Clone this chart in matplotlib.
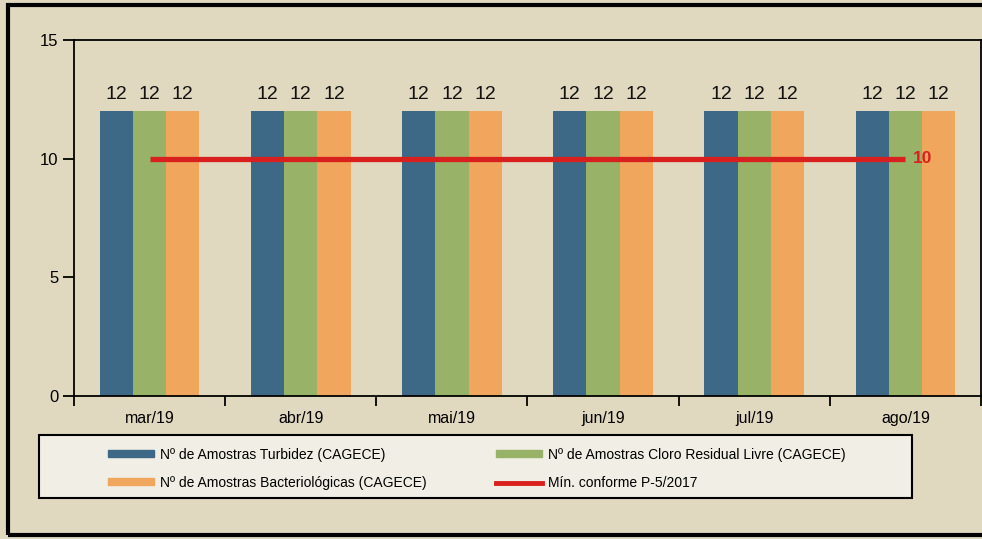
import numpy as np
import matplotlib.pyplot as plt
from matplotlib.patches import Rectangle, Patch
from matplotlib.lines import Line2D

plt.rcParams['font.family'] = ['Liberation Sans', 'DejaVu Sans']

# data
meses = ['mar/19', 'abr/19', 'mai/19', 'jun/19', 'jul/19', 'ago/19']
turbidez = [12, 12, 12, 12, 12, 12]
cloro = [12, 12, 12, 12, 12, 12]
bacterio = [12, 12, 12, 12, 12, 12]
minimo = [10, 10, 10, 10, 10, 10]

series_labels = ['Nº de Amostras Turbidez (CAGECE)',
                 'Nº de Amostras Cloro Residual Livre (CAGECE)',
                 'Nº de Amostras Bacteriológicas (CAGECE)']
min_label = 'Mín. conforme P-5/2017'

bg = '#e1d8c0'
cores = ['#3d6987', '#98b367', '#f0a65c']
vermelho = '#d8201e'

fig = plt.figure(figsize=(9.82, 5.39), dpi=100, facecolor=bg)
ax = fig.add_axes([74 / 982, 1 - 396 / 539, 907 / 982, 356 / 539])
ax.set_facecolor('none')

x = np.arange(len(meses))
w = 0.22
for i, (vals, c) in enumerate(zip([turbidez, cloro, bacterio], cores)):
    pos = x + (i - 1) * w
    ax.bar(pos, vals, width=w, color=c, zorder=2)
    for p, v in zip(pos, vals):
        ax.text(p, v + 0.35, str(v), ha='center', va='bottom', fontsize=14, color='#111111')

ax.plot(x, minimo, color=vermelho, lw=3.8, solid_capstyle='butt', zorder=3)
ax.text(x[-1] + 0.05, minimo[-1], str(minimo[-1]), color=vermelho, fontsize=12.5,
        fontweight='bold', va='center', ha='left')

ax.set_xlim(-0.5, len(meses) - 0.5)
ax.set_ylim(0, 15)
ax.set_yticks([0, 5, 10, 15])
ax.set_xticks(x)
ax.set_xticklabels(meses, fontsize=11.5)
ax.set_xticks(np.arange(-0.5, len(meses), 1), minor=True)
ax.tick_params(axis='x', which='major', length=0, pad=11)
ax.tick_params(axis='x', which='minor', length=7, width=1.3, direction='out')
ax.tick_params(axis='y', length=8, width=1.3, labelsize=12, pad=3)
for s in ax.spines.values():
    s.set_linewidth(1.3)

# legend box
fig.add_artist(Rectangle((39 / 982, 1 - 498 / 539), 873 / 982, 63 / 539,
                         transform=fig.transFigure, facecolor='#f1eee5',
                         edgecolor='black', lw=1.5))
handles = [Patch(color=cores[0]), Patch(color=cores[2]),
           Patch(color=cores[1]), Line2D([], [], color=vermelho, lw=3.5)]
labels = [series_labels[0], series_labels[2], series_labels[1], min_label]
fig.legend(handles, labels, ncol=2, frameon=False, fontsize=10,
           loc='upper left', bbox_to_anchor=(101 / 982, 1 - 441 / 539),
           handlelength=3.3, handleheight=0.4, handletextpad=0.45,
           columnspacing=5.0, labelspacing=1.0, borderpad=0)

# outer frame
fig.add_artist(Rectangle((8 / 982, 1 - 535 / 539), 990 / 982, 530 / 539,
                         transform=fig.transFigure, fill=False,
                         edgecolor='black', lw=3))

fig.savefig('out.png', dpi=100, facecolor=bg)
